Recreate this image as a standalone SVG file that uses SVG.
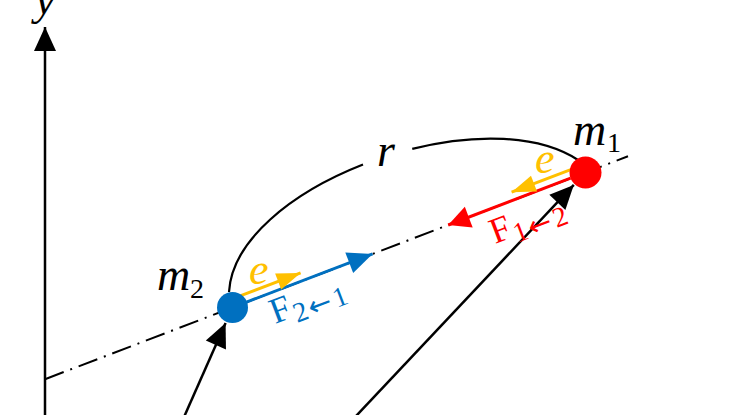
<svg xmlns="http://www.w3.org/2000/svg" width="740" height="415" viewBox="0 0 740 415">
<style>
.ax{stroke:#000;stroke-width:2.5;fill:none}
.dd{stroke:#000;stroke-width:2;fill:none;stroke-dasharray:20 7 2 7}
.arc{stroke:#000;stroke-width:2.2;fill:none}
.math{font-family:"Liberation Serif","DejaVu Serif",serif;font-style:italic}
.up{font-family:"Liberation Serif","DejaVu Serif",serif}
.arw{font-family:"DejaVu Sans",sans-serif}
</style>
<defs>
<marker id="ak" markerUnits="userSpaceOnUse" markerWidth="25" markerHeight="24" refX="24" refY="11" orient="auto" overflow="visible"><path d="M0,0 L24,11 L0,22 z" fill="#000"/></marker>
<marker id="ab" markerUnits="userSpaceOnUse" markerWidth="26" markerHeight="24" refX="25" refY="11" orient="auto" overflow="visible"><path d="M0,0 L25,11 L0,22 z" fill="#0070C0"/></marker>
<marker id="ar" markerUnits="userSpaceOnUse" markerWidth="24" markerHeight="24" refX="22" refY="11" orient="auto" overflow="visible"><path d="M0,0 L22,11 L0,22 z" fill="#FF0000"/></marker>
<marker id="ay" markerUnits="userSpaceOnUse" markerWidth="25" markerHeight="18" refX="24" refY="8.5" orient="auto" overflow="visible"><path d="M0,0 L24,8.5 L0,17 z" fill="#FFC000"/></marker>
</defs>
<g id="connectors">
<line class="dd" x1="45" y1="379.2" x2="628" y2="156.3"/>
<line class="ax" x1="45" y1="420" x2="45" y2="27" marker-end="url(#ak)"/>
<path class="arc" d="M229,292 C231.92,240.43 291.40,192.65 363.01,164.55"/>
<path class="arc" d="M412.24,148.85 C474.51,133.42 538.31,134.08 578,160"/>
<line class="ax" x1="182.7" y1="420" x2="225.6" y2="323.1" marker-end="url(#ak)"/>
<line class="ax" x1="352.3" y1="420" x2="573.8" y2="184.9" marker-end="url(#ak)"/>
<line stroke="#0070C0" stroke-width="3" x1="246.5" y1="302.1" x2="372.6" y2="253.9" marker-end="url(#ab)"/>
<line stroke="#FFC000" stroke-width="3" x1="240.8" y1="295.7" x2="300.6" y2="272.9" marker-end="url(#ay)"/>
<line stroke="#FF0000" stroke-width="3" x1="570.6" y1="178.2" x2="448.2" y2="225" marker-end="url(#ar)"/>
<line stroke="#FFC000" stroke-width="3" x1="571.4" y1="169.3" x2="511.6" y2="192.2" marker-end="url(#ay)"/>
</g>
<g id="axis-label"><text class="math" x="35" y="14" font-size="46">y</text></g>
<g id="r-label"><text class="math" x="377" y="166" font-size="46">r</text></g>
<g id="m2">
<circle cx="232.5" cy="307.5" r="15.5" fill="#0070C0"/>
<text class="math" x="157" y="290" font-size="46">m</text>
<text class="up" x="190" y="298" font-size="28">2</text>
</g>
<g id="m1">
<circle cx="585.5" cy="172.5" r="16" fill="#FF0000"/>
<text class="math" x="573" y="145" font-size="46">m</text>
<text class="up" x="607" y="152" font-size="28">1</text>
</g>
<g id="e-labels">
<text class="math" x="249" y="284" font-size="44" fill="#FFC000">e</text>
<text class="math" x="535" y="173" font-size="44" fill="#FFC000">e</text>
</g>
<g id="F21" fill="#0070C0" transform="translate(275,324) rotate(-20.9)">
<text class="up" x="0" y="0" font-size="36">F<tspan font-size="28" dy="7" dx="1">2</tspan><tspan class="arw" font-size="28" dx="2">←</tspan><tspan font-size="28" dx="3">1</tspan></text>
</g>
<g id="F12" fill="#FF0000" transform="translate(495,244) rotate(-20.9)">
<text class="up" x="0" y="0" font-size="36">F<tspan font-size="28" dy="7" dx="1">1</tspan><tspan class="arw" font-size="28" dx="2">←</tspan><tspan font-size="28" dx="3">2</tspan></text>
</g>
</svg>
